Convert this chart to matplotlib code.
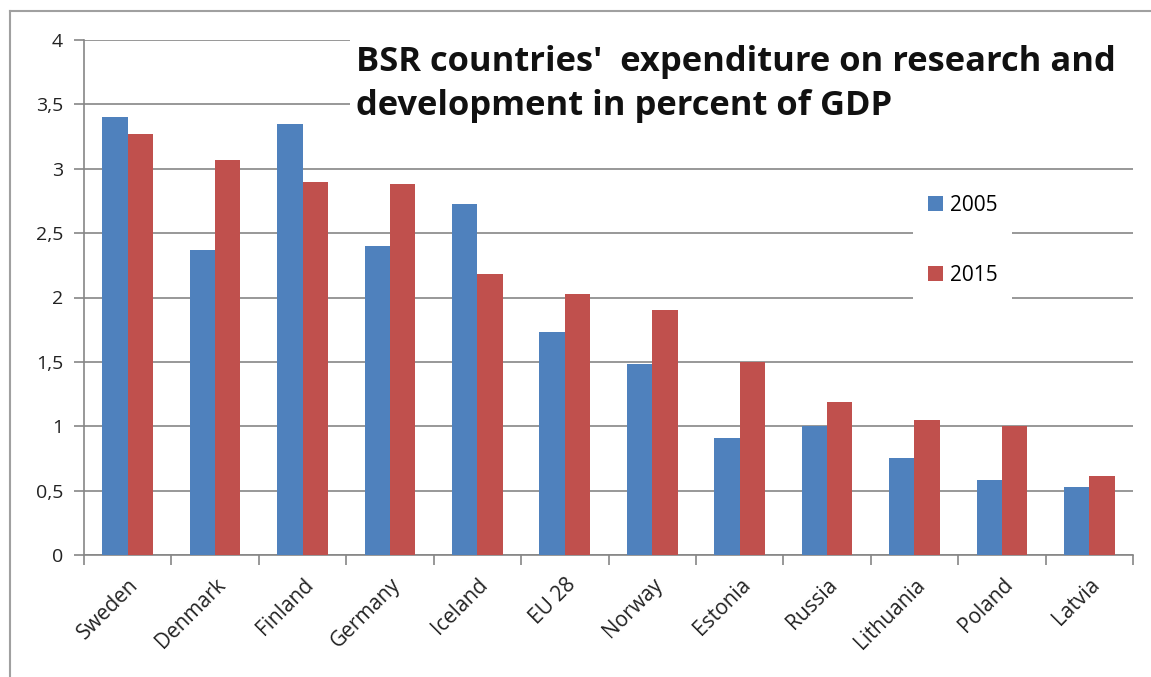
import matplotlib.pyplot as plt
from matplotlib.patches import Rectangle
from matplotlib.lines import Line2D
import numpy as np

paises = ['Sweden', 'Denmark', 'Finland', 'Germany', 'Iceland', 'EU 28', 'Norway',
          'Estonia', 'Russia', 'Lithuania', 'Poland', 'Latvia']
valores_2005 = [3.40, 2.37, 3.35, 2.40, 2.73, 1.73, 1.48, 0.91, 1.00, 0.75, 0.58, 0.53]
valores_2015 = [3.27, 3.07, 2.90, 2.88, 2.18, 2.03, 1.90, 1.50, 1.19, 1.05, 1.00, 0.61]
ticks_y = [0, 0.5, 1, 1.5, 2, 2.5, 3, 3.5, 4]
etiquetas_y = ['0', '0,5', '1', '1,5', '2', '2,5', '3', '3,5', '4']

plt.rcParams['font.family'] = ['Open Sans', 'DejaVu Sans']
gris = '#868686'

fig = plt.figure(figsize=(11.51, 6.77), dpi=100)
ax = fig.add_axes([84/1151, 1 - 555/677, (1133 - 84)/1151, (555 - 40)/677])

x = np.arange(len(paises))
ancho = 0.29
ax.bar(x - ancho/2, valores_2005, width=ancho, color='#4F81BD', label='2005', zorder=3)
ax.bar(x + ancho/2, valores_2015, width=ancho, color='#C0504D', label='2015', zorder=3)

ax.set_xlim(-0.5, len(paises) - 0.5)
ax.set_ylim(0, 4)
ax.set_yticks(ticks_y)
ax.set_yticklabels(etiquetas_y, fontsize=14, color='#222222')
ax.yaxis.grid(True, color=gris, linewidth=1.2, zorder=0)
ax.set_axisbelow(True)

# ticks del eje x entre categorias
ax.set_xticks(np.arange(len(paises) + 1) - 0.5)
ax.set_xticklabels([])
ax.set_xticks(x, minor=True)
ax.set_xticklabels(paises, minor=True, rotation=45, ha='right', rotation_mode='anchor',
                   fontsize=15, color='#222222')
ax.tick_params(axis='x', which='minor', length=0, pad=14)
ax.tick_params(axis='x', which='major', length=7, color=gris, width=1.2)
ax.tick_params(axis='y', length=7, color=gris, width=1.2, pad=8)

for lado in ['top', 'right']:
    ax.spines[lado].set_visible(False)
for lado in ['left', 'bottom']:
    ax.spines[lado].set_color(gris)
    ax.spines[lado].set_linewidth(1.2)

# caja blanca del titulo sobre la cuadricula
ax.add_patch(Rectangle((350/1151, 1 - 135/677), (1133 - 350)/1151, (135 - 40)/677,
                       transform=fig.transFigure, facecolor='white', edgecolor='none',
                       zorder=1))
fig.text(356/1151, 1 - 84/677, "BSR countries'  expenditure on research and\ndevelopment in percent of GDP",
         fontsize=24.8, fontweight='bold', va='center', ha='left', linespacing=1.42,
         color='#111111')

leg = ax.legend(loc='upper left', bbox_to_anchor=(913/1151, 1 - 180/677),
                bbox_transform=fig.transFigure, frameon=True, fontsize=15,
                handlelength=0.72, handleheight=0.72, handletextpad=0.35,
                labelspacing=2.35, borderpad=0.7, borderaxespad=0, fancybox=False)
leg.get_frame().set_edgecolor('none')
leg.get_frame().set_facecolor('white')
leg.get_frame().set_alpha(1)

# borde exterior
fig.add_artist(Line2D([10/1151, 1], [1 - 11/677, 1 - 11/677], color='#a0a0a0', linewidth=1.5))
fig.add_artist(Line2D([10/1151, 10/1151], [0, 1 - 11/677], color='#a0a0a0', linewidth=1.5))

plt.savefig('out.png', dpi=100)
